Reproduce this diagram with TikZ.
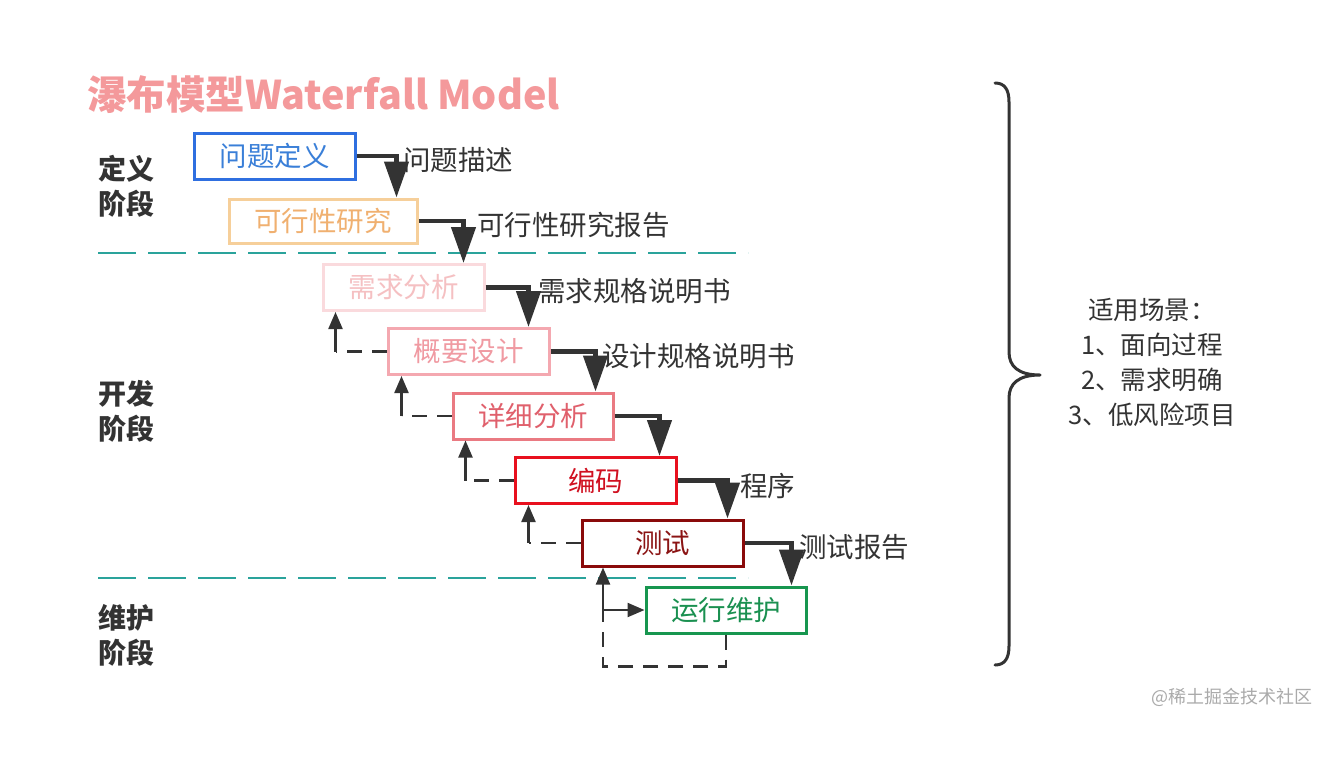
\documentclass[tikz,border=0pt]{standalone}
\usepackage{fontspec}
\setmainfont{Noto Sans CJK SC}
\usetikzlibrary{arrows.meta,calc}
\definecolor{ink}{HTML}{333333}
\definecolor{teal1}{HTML}{2AA39B}
\definecolor{titlec}{HTML}{F4999B}
\definecolor{c1d}{HTML}{2F6FE0}\definecolor{c1t}{HTML}{3A7FD8}
\definecolor{c2d}{HTML}{F6CF9A}\definecolor{c2t}{HTML}{F0B070}
\definecolor{c3d}{HTML}{FADADD}\definecolor{c3t}{HTML}{F5C0C2}
\definecolor{c4d}{HTML}{F4A8B0}\definecolor{c4t}{HTML}{F09AA2}
\definecolor{c5d}{HTML}{EA7A82}\definecolor{c5t}{HTML}{E0606C}
\definecolor{c6d}{HTML}{E8101E}\definecolor{c6t}{HTML}{D01020}
\definecolor{c7d}{HTML}{8A0A0A}\definecolor{c7t}{HTML}{8B1414}
\definecolor{c8d}{HTML}{17964F}\definecolor{c8t}{HTML}{1A9050}
\definecolor{wm}{HTML}{AAAAAA}
\begin{document}
\begin{tikzpicture}[x=1pt,y=-1pt,
  box/.style={draw, line width=3pt, fill=white, minimum width=#1, minimum height=46pt, inner sep=0pt, font=\fontsize{27.5}{30}\selectfont},
  heavy/.style={draw=ink, line width=4.5pt, -{Triangle[length=36pt,width=24pt]}},
  fbline/.style={draw=ink, line width=2.2pt, dash pattern=on 15pt off 10pt},
  fbarrow/.style={draw=ink, line width=2.2pt, -{Triangle[length=17pt,width=14pt]}},
  lbl/.style={anchor=west, text=ink, inner sep=0pt, font=\fontsize{27.5}{30}\selectfont},
  phase/.style={anchor=west, text=ink, inner sep=0pt, align=left, font=\bfseries\fontsize{28}{35}\selectfont},
  sep/.style={draw=teal1, line width=2pt, dash pattern=on 38pt off 12pt},
  bracestyle/.style={draw=ink, line width=3pt, line cap=round, line join=round}
]
\useasboundingbox[fill=white] (0,0) rectangle (1331,764);

% title
\node[anchor=west, inner sep=0pt, text=titlec, font=\bfseries\fontsize{39.5}{42}\selectfont] (title) at (87,95) {瀑布模型Waterfall Model};

% phases
\node[phase] (p1) at (98,186) {定义\\阶段};
\node[phase] (p2) at (98,411) {开发\\阶段};
\node[phase] (p3) at (98,635) {维护\\阶段};

% separators
\coordinate (s1a) at (98,253); \coordinate (s1b) at (748,253);
\coordinate (s2a) at (98,578); \coordinate (s2b) at (748,578);
\draw[sep] (s1a) -- (s1b);
\draw[sep] (s2a) -- (s2b);

% boxes
\node[box=161pt, draw=c1d, text=c1t] (a) at (274.5,156) {问题定义};
\node[box=188pt, draw=c2d, text=c2t, minimum height=44pt] (b) at (323,221) {可行性研究};
\node[box=161pt, draw=c3d, text=c3t] (c) at (403.5,287.5) {需求分析};
\node[box=161pt, draw=c4d, text=c4t] (d) at (468.5,351.5) {概要设计};
\node[box=160pt, draw=c5d, text=c5t] (e) at (533,416) {详细分析};
\node[box=161pt, draw=c6d, text=c6t] (f) at (595.5,480.5) {编码};
\node[box=161pt, draw=c7d, text=c7t] (g) at (662.5,543) {测试};
\node[box=160pt, draw=c8d, text=c8t] (h) at (726,610) {运行维护};

% forward heavy arrows
\draw[heavy] (a.east) -- ++(40,0) coordinate (ta) -- (ta |- b.north);
\draw[heavy] (b.east) -- ++(45,0) coordinate (tb) -- (tb |- c.north);
\draw[heavy] (c.east) -- ++(43,0) coordinate (tc) -- (tc |- d.north);
\draw[heavy] (d.east) -- ++(45,0) coordinate (td) -- (td |- e.north);
\draw[heavy] (e.east) -- ++(45,0) coordinate (te) -- (te |- f.north);
\draw[heavy] (f.east) -- ++(50,0) coordinate (tf) -- (tf |- g.north);
\draw[heavy] (g.east) -- ++(47,0) coordinate (tg) -- (tg |- h.north);

% arrow labels
\node[lbl] (la) at (403,160) {问题描述};
\node[lbl] (lb) at (477,225) {可行性研究报告};
\node[lbl] (lc) at (538,291) {需求规格说明书};
\node[lbl] (ld) at (602,356) {设计规格说明书};
\node[lbl] (lf) at (740,486) {程序};
\node[lbl] (lg) at (799,547) {测试报告};

% feedback arrows
\draw[fbline] (d.west) -- ++(-51,0) coordinate (ud);
\draw[fbarrow] (ud) -- (ud |- c.south);
\draw[fbline] (e.west) -- ++(-50,0) coordinate (ue);
\draw[fbarrow] (ue) -- (ue |- d.south);
\draw[fbline] (f.west) -- ++(-48,0) coordinate (uf);
\draw[fbarrow] (uf) -- (uf |- e.south);
\draw[fbline] (g.west) -- ++(-52,0) coordinate (ug);
\draw[fbarrow] (ug) -- (ug |- f.south);

% maintenance loop
\draw[fbline] (h.south) -- ++(0,32) coordinate (hl) -- ++(-123,0) coordinate (hm) -- (hm |- h.west) coordinate (hb);
\draw[fbarrow] (hb) -- (hb |- g.south);
\draw[fbarrow] (hb) -- (h.west);

% brace
\coordinate (br0) at (995,83);
\coordinate (brtip) at (1040,375);
\coordinate (br1) at (995,665);
\draw[bracestyle] (br0) .. controls (1005,83) and (1009,90) .. (1009,102) -- (1009,352)
  .. controls (1009,366) and (1018,375) .. (brtip)
  .. controls (1018,375) and (1009,384) .. (1009,398) -- (1009,646)
  .. controls (1009,658) and (1005,665) .. (br1);

% side text
\node[text=ink, align=center, inner sep=0pt, font=\fontsize{25.5}{35}\selectfont] (scene) at (1152,362) {适用场景：\\1、面向过程\\2、需求明确\\3、低风险项目};

% watermark
\node[anchor=east, text=wm, inner sep=0pt, font=\fontsize{18}{20}\selectfont] (wmk) at (1313,697) {@稀土掘金技术社区};
\end{tikzpicture}
\end{document}
